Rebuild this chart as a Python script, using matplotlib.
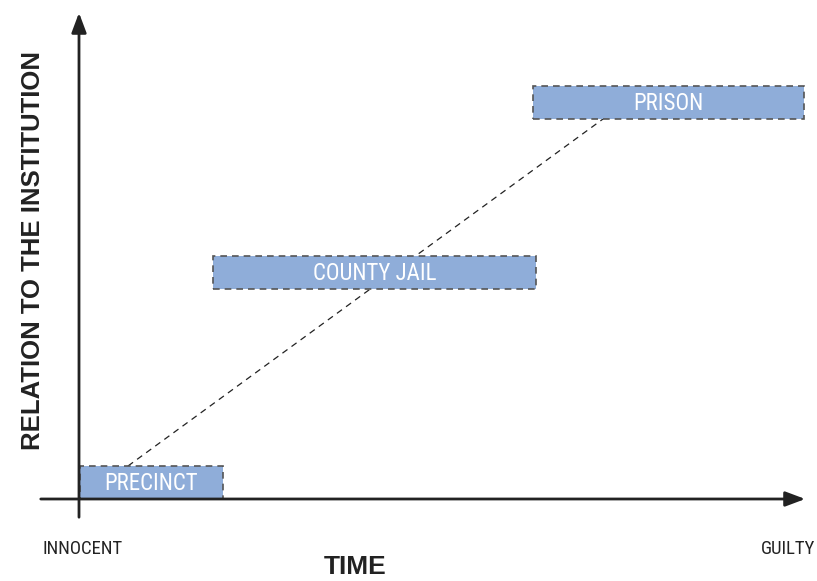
import matplotlib.pyplot as plt
from matplotlib.patches import Rectangle
from matplotlib import font_manager

# stages: name, start/end on time axis, bottom/top on institution axis
stages = ["PRECINCT", "COUNTY JAIL", "PRISON"]
start = [1, 134, 454]
end = [144, 457, 725]
low = [0, 210, 380]
high = [33, 243, 413]

# dashed trend line
trend_x = [49, 524]
trend_y = [33, 380]

installed = {f.name for f in font_manager.fontManager.ttflist}
narrow = [f for f in ['Roboto Condensed', 'Liberation Sans Narrow', 'Roboto'] if f in installed] + ['DejaVu Sans']
boldfam = [f for f in ['Liberation Sans Narrow', 'Liberation Sans'] if f in installed] + ['DejaVu Sans']
box_color = '#8fadd9'

fig = plt.figure(figsize=(8.17, 5.81), dpi=100)
ax = fig.add_axes([0, 0, 1, 1])
ax.set_xlim(-79, 738)
ax.set_ylim(-82, 499)
ax.axis('off')

ax.plot(trend_x, trend_y, color='#222222', lw=0.9, ls=(0, (5, 4)), zorder=1)

for name, x0, x1, y0, y1 in zip(stages, start, end, low, high):
    ax.add_patch(Rectangle((x0, y0), x1 - x0, y1 - y0, facecolor=box_color,
                           edgecolor='#555555', lw=1.2, ls=(0, (4, 3)), zorder=2))
    ax.text((x0 + x1) / 2, (y0 + y1) / 2 - 1, name, color='white', fontsize=16.5,
            family=narrow, ha='center', va='center', zorder=3)

# axes with arrows
ax.annotate('', xy=(729, 0), xytext=(-41, 0),
            arrowprops=dict(arrowstyle='-|>,head_length=1.2,head_width=0.45', color='#222222', lw=2))
ax.annotate('', xy=(0, 489), xytext=(0, -21),
            arrowprops=dict(arrowstyle='-|>,head_length=1.2,head_width=0.45', color='#222222', lw=2))

ax.text(4, -50, 'INNOCENT', fontsize=13.5, family=narrow, color='#222222', ha='center', va='center')
ax.text(736, -50, 'GUILTY', fontsize=13.5, family=narrow, color='#222222', ha='right', va='center')
ax.text(276, -68, 'TIME', fontsize=19, fontweight='bold', family=boldfam, color='#222222',
        ha='center', va='center')
ax.text(-46, 249, 'RELATION TO THE INSTITUTION', fontsize=18.5, fontweight='bold', family=boldfam,
        color='#222222', ha='center', va='center', rotation=90)

fig.savefig('out.png', dpi=100)
